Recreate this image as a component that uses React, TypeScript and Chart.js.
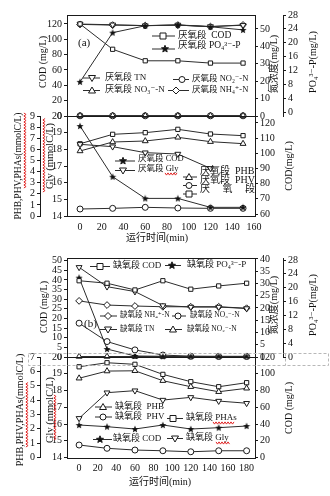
import React, { useEffect, useRef } from "react";
import { Chart, registerables } from "chart.js";
Chart.register(...registerables);

const FONT = '"Liberation Serif", "DejaVu Serif", "Noto Sans CJK SC", serif';

// ---------- Panel (a): anaerobic stage (厌氧段) ----------
const timeA = [0, 30, 60, 90, 120, 150];
const codA = [120, 87, 72, 72, 69, 69];
const po4A = [8.7, 22.9, 24.9, 25.1, 24.6, 23.7];
const tnA = [52.8, 52.4, 51.9, 52.3, 51.4, 52.1];
const nh4A = [52.6, 52.2, 51.9, 52.2, 51.3, 52.3];
const no3A = [0.2, 0.2, 0.2, 0.2, 0.2, 0.2];
const no2A = [0.1, 0.1, 0.1, 0.1, 0.1, 0.1];
const codA2 = [118, 84.6, 70.3, 70.3, 64.4, 64.4];
const glyA = [18.3, 18.16, 17.8, 17.72, 16.86, null];
const phbA = [5.85, 6.66, 6.75, 7.08, 6.69, 6.51];
const phvA = [0.63, 0.69, 0.78, 0.72, 0.69, 0.69];
const phasA = [6.5, 7.35, 7.5, 7.8, 7.38, 7.23];

// ---------- Panel (b): anoxic stage (缺氧段) ----------
const timeB = [0, 30, 60, 90, 120, 150, 180];
const codB = [39.6, 38.3, 34.8, 39.6, 35.2, 36.9, 38.3];
const po4B = [22.9, 2.3, 0.3, 0.2, 0.2, 0.2, 0.2];
const tnB = [36.6, 28.7, 26.7, 21.0, 20.4, 20.4, 19.8];
const nh4B = [22.9, 21.2, 20.8, 20.5, 20.5, 20.5, 19.9];
const no3B = [13.8, 6.3, 2.9, 0.8, 0.3, 0.2, 0.2];
const no2B = [0.2, 0.2, 0.2, 0.2, 0.2, 0.2, 0.2];
const codB2 = [38.8, 36.8, 34.0, 38.8, 34.0, 35.6, 37.6];
const glyB = [16.34, 17.87, 17.99, 17.43, 17.59, 17.37, 17.24];
const phbB = [5.52, 6.02, 6.04, 5.35, 4.93, 4.58, 4.82];
const phvB = [0.87, 0.64, 0.52, 0.47, 0.4, 0.47, 0.47];
const phasB = [6.32, 6.6, 6.49, 5.79, 5.28, 4.93, 5.21];

const INK = "#1a1a1a";
const LINE = "#2c2c2c";

function starPath(g: CanvasRenderingContext2D, cx: number, cy: number, ro: number, ri: number) {
  g.beginPath();
  for (let i = 0; i < 10; i++) {
    const r = i % 2 ? ri : ro;
    const a = -Math.PI / 2 + (i * Math.PI) / 5;
    const px = cx + r * Math.cos(a);
    const py = cy + r * Math.sin(a);
    if (i) g.lineTo(px, py);
    else g.moveTo(px, py);
  }
  g.closePath();
}

function makeStar(): HTMLCanvasElement {
  const c = document.createElement("canvas");
  c.width = 8;
  c.height = 8;
  const g = c.getContext("2d")!;
  starPath(g, 4, 4.3, 3.7, 1.6);
  g.fillStyle = "#111";
  g.fill();
  return c;
}

function drawMarker(g: CanvasRenderingContext2D, kind: string, x: number, y: number) {
  g.save();
  g.lineWidth = 1;
  g.strokeStyle = INK;
  g.fillStyle = "#fff";
  g.beginPath();
  if (kind === "square") g.rect(x - 3, y - 3, 6, 6);
  else if (kind === "circle") g.arc(x, y, 3, 0, 2 * Math.PI);
  else if (kind === "tri") {
    g.moveTo(x, y - 3.5); g.lineTo(x + 3.5, y + 2.5); g.lineTo(x - 3.5, y + 2.5); g.closePath();
  } else if (kind === "dtri") {
    g.moveTo(x, y + 3.5); g.lineTo(x + 3.5, y - 2.5); g.lineTo(x - 3.5, y - 2.5); g.closePath();
  } else if (kind === "diamond") {
    g.moveTo(x, y - 3.5); g.lineTo(x + 3.5, y); g.lineTo(x, y + 3.5); g.lineTo(x - 3.5, y); g.closePath();
  } else if (kind === "star") {
    starPath(g, x, y, 3.7, 1.6);
    g.fillStyle = "#111";
  }
  g.fill();
  g.stroke();
  g.restore();
}

function wavy(g: CanvasRenderingContext2D, x1: number, y1: number, x2: number, y2: number) {
  g.save();
  g.strokeStyle = "#e02424";
  g.lineWidth = 1;
  g.beginPath();
  const len = Math.hypot(x2 - x1, y2 - y1);
  const ux = (x2 - x1) / len, uy = (y2 - y1) / len;
  const nx = -uy, ny = ux;
  let k = 0;
  for (let d = 0; d <= len; d += 1.5, k++) {
    const a = (k % 2 ? 1 : -1) * 1.1;
    const px = x1 + ux * d + nx * a, py = y1 + uy * d + ny * a;
    if (k) g.lineTo(px, py);
    else g.moveTo(px, py);
  }
  g.stroke();
  g.restore();
}

type TextItem = { t: string; x: number; y: number; s?: number; rot?: boolean; align?: CanvasTextAlign };
type LegItem = { k: string; x1: number; x2: number; mx: number; y: number; t: string; tx: number; ty?: number; s?: number };
type Overlay = { texts: TextItem[]; legs: LegItem[]; waves?: number[][]; dashed?: boolean };

function overlayPlugin(ov: Overlay) {
  return {
    id: "overlay",
    afterDraw(chart: any) {
      const g: CanvasRenderingContext2D = chart.ctx;
      const a = chart.chartArea;
      g.save();
      g.strokeStyle = INK;
      g.lineWidth = 1;
      g.strokeRect(Math.round(a.left) + 0.5, Math.round(a.top) + 0.5, Math.round(a.right) - Math.round(a.left), Math.round(a.bottom) - Math.round(a.top));
      for (const L of ov.legs) {
        g.strokeStyle = LINE;
        g.beginPath();
        g.moveTo(L.x1, L.y + 0.5);
        g.lineTo(L.x2, L.y + 0.5);
        g.stroke();
        drawMarker(g, L.k, L.mx, L.y + 0.5);
        g.fillStyle = "#111";
        g.font = `${L.s ?? 9}px ${FONT}`;
        g.textAlign = "left";
        g.textBaseline = "middle";
        g.fillText(L.t, L.tx, L.ty ?? L.y);
      }
      for (const T of ov.texts) {
        g.save();
        g.fillStyle = "#111";
        g.font = `${T.s ?? 10}px ${FONT}`;
        g.textAlign = T.align ?? (T.rot ? "center" : "left");
        g.textBaseline = "middle";
        g.translate(T.x, T.y);
        if (T.rot) g.rotate(-Math.PI / 2);
        g.fillText(T.t, 0, 0);
        g.restore();
      }
      for (const w of ov.waves ?? []) wavy(g, w[0], w[1], w[2], w[3]);
      if (ov.dashed) {
        g.strokeStyle = "#b8b8b8";
        g.setLineDash([3, 2]);
        g.strokeRect(28.5, 353.5, 300, 12);
        g.beginPath();
        g.moveTo(285.5, 353.5);
        g.lineTo(285.5, 365.5);
        g.stroke();
        g.setLineDash([]);
      }
      g.restore();
    },
  };
}

const STY: Record<string, any> = {
  square: { pointStyle: "rect", pointRadius: 3 },
  circle: { pointStyle: "circle", pointRadius: 3 },
  tri: { pointStyle: "triangle", pointRadius: 3.4 },
  dtri: { pointStyle: "triangle", pointRotation: 180, pointRadius: 3.4 },
  diamond: { pointStyle: "rectRot", pointRadius: 3.4 },
};

function ds(label: string, xs: number[], ys: (number | null)[], axis: string, kind: string, star: HTMLCanvasElement) {
  const st = kind === "star" ? { pointStyle: star, pointRadius: 4 } : STY[kind];
  return {
    label,
    yAxisID: axis,
    data: xs.map((x, i) => ({ x, y: ys[i] })).filter((p) => p.y !== null && p.y !== undefined),
    borderColor: LINE,
    borderWidth: 1,
    tension: 0,
    pointBackgroundColor: "#fff",
    pointBorderColor: INK,
    pointBorderWidth: 1,
    clip: false,
    ...st,
  };
}

function yScale(pos: string, min: number, max: number, step: number, width: number, weight = 0) {
  return {
    type: "linear",
    position: pos,
    min,
    max,
    weight,
    grid: { display: true, drawOnChartArea: false, drawTicks: true, tickLength: 3, color: INK },
    border: { display: true, color: INK, width: 1 },
    ticks: { stepSize: step, includeBounds: false, autoSkip: false, font: { family: FONT, size: 10 }, color: "#111", padding: 2 },
    afterFit: (s: any) => { s.width = width; },
  };
}

function xScale(min: number, max: number, show: boolean) {
  const sc: any = {
    type: "linear",
    position: "bottom",
    min,
    max,
    display: show,
    grid: { display: false, drawTicks: false, tickLength: 0 },
    border: { display: false },
    ticks: { stepSize: 20, includeBounds: false, autoSkip: false, maxRotation: 0, font: { family: FONT, size: 10 }, color: "#111", padding: 5 },
  };
  sc.afterFit = (s: any) => { s.height = show ? 20 : 0; };
  return sc;
}

function baseOptions(padding: any, scales: any) {
  return {
    responsive: false,
    animation: false,
    devicePixelRatio: 1,
    events: [],
    layout: { padding },
    plugins: { legend: { display: false }, tooltip: { enabled: false } },
    scales,
  };
}

function cfgATop(star: HTMLCanvasElement): any {
  return {
    type: "line",
    data: {
      datasets: [
        ds("厌氧段 COD", timeA, codA, "yCOD", "square", star),
        ds("厌氧段 PO4", timeA, po4A, "yP", "star", star),
        ds("厌氧段 TN", timeA, tnA, "yN", "dtri", star),
        ds("厌氧段 NH4", timeA, nh4A, "yN", "diamond", star),
        ds("厌氧段 NO3", timeA, no3A, "yN", "tri", star),
        ds("厌氧段 NO2", timeA, no2A, "yN", "circle", star),
      ],
    },
    options: baseOptions({ left: 37, right: 25, top: 15, bottom: 380 }, {
      x: xScale(-12, 161, false),
      yCOD: yScale("left", 0, 131.7, 20, 30),
      yN: yScale("right", 0, 58, 10, 28, 0),
      yP: yScale("right", -1.15, 28, 4, 22, 1),
    }),
    plugins: [overlayPlugin({
      texts: [
        { t: "COD (mg/L)", x: 43, y: 62, rot: true },
        { t: "氮浓度(mg/L)", x: 274, y: 64, rot: true },
        { t: "PO₄³⁻-P(mg/L)", x: 313, y: 62, rot: true },
        { t: "(a)", x: 78, y: 43, s: 11 },
      ],
      legs: [
        { k: "square", x1: 152, x2: 175, mx: 163, y: 35.5, t: "厌氧段  COD", tx: 178, s: 9.5 },
        { k: "star", x1: 152, x2: 175, mx: 165, y: 48.5, t: "厌氧段 PO₄³⁻-P", tx: 178, ty: 45, s: 9.5 },
        { k: "dtri", x1: 83, x2: 100, mx: 92, y: 77.5, t: "厌氧段 TN", tx: 105, s: 9 },
        { k: "tri", x1: 83, x2: 100, mx: 92, y: 90, t: "厌氧段 NO₃⁻-N", tx: 105, s: 9 },
        { k: "circle", x1: 173, x2: 189, mx: 182, y: 79, t: "厌氧段 NO₂⁻-N", tx: 192, s: 8.5 },
        { k: "diamond", x1: 168, x2: 189, mx: 176, y: 90, t: "厌氧段 NH₄⁺-N", tx: 192, s: 8.5 },
      ],
    })],
  };
}

function cfgABot(star: HTMLCanvasElement): any {
  return {
    type: "line",
    data: {
      datasets: [
        ds("厌氧段 COD", timeA, codA2, "yCOD", "star", star),
        ds("厌氧段 Gly", timeA, glyA, "yGly", "dtri", star),
        ds("厌氧段 PHB", timeA, phbA, "yPHA", "tri", star),
        ds("厌氧段 PHV", timeA, phvA, "yPHA", "circle", star),
        ds("厌氧段 PHAs", timeA, phasA, "yPHA", "square", star),
      ],
    },
    options: baseOptions({ left: 24, right: 45, top: 116, bottom: 260 }, {
      x: xScale(-12, 161, true),
      yGly: yScale("left", 14, 20, 1, 27, 0),
      yPHA: yScale("left", 0, 9, 1, 16, 1),
      yCOD: yScale("right", 58.7, 124.6, 10, 30),
    }),
    plugins: [overlayPlugin({
      texts: [
        { t: "PHB,PHV,PHAs(mmolC/L)", x: 18, y: 166, rot: true, s: 9.5 },
        { t: "Gly (mmolC/L)", x: 50, y: 156, rot: true, s: 10.5 },
        { t: "COD(mg/L)", x: 289, y: 166, rot: true },
        { t: "运行时间(min)", x: 157, y: 238, align: "center" },
        { t: "厌　 氧　 段", x: 200, y: 189, s: 10 },
      ],
      legs: [
        { k: "star", x1: 115, x2: 135, mx: 123, y: 160.5, t: "厌氧段 COD", tx: 138, ty: 159, s: 8.5 },
        { k: "dtri", x1: 115, x2: 135, mx: 123, y: 170, t: "厌氧段 Gly", tx: 138, ty: 168.5, s: 8.5 },
        { k: "tri", x1: 183, x2: 197, mx: 189, y: 176.5, t: "厌氧段  PHB", tx: 200, ty: 171.5, s: 10 },
        { k: "circle", x1: 183, x2: 197, mx: 189, y: 185, t: "厌氧段  PHV", tx: 200, ty: 180, s: 10 },
        { k: "square", x1: 183, x2: 197, mx: 189, y: 193.5, t: "", tx: 200, s: 10 },
      ],
      waves: [
        [25, 188, 25, 113],
        [44, 192, 44, 118],
        [165, 174, 178, 174],
      ],
    })],
  };
}

function cfgBTop(star: HTMLCanvasElement): any {
  return {
    type: "line",
    data: {
      datasets: [
        ds("缺氧段 COD", timeB, codB, "yCOD", "square", star),
        ds("缺氧段 PO4", timeB, po4B, "yP", "star", star),
        ds("缺氧段 TN", timeB, tnB, "yN", "dtri", star),
        ds("缺氧段 NH4", timeB, nh4B, "yN", "diamond", star),
        ds("缺氧段 NO3", timeB, no3B, "yN", "circle", star),
        ds("缺氧段 NO2", timeB, no2B, "yN", "tri", star),
      ],
    },
    options: baseOptions({ left: 37, right: 25, top: 258, bottom: 139 }, {
      x: xScale(-13, 189, false),
      yCOD: yScale("left", 0, 51.4, 5, 30),
      yN: yScale("right", 0, 40.4, 5, 28, 0),
      yP: yScale("right", 0, 28.58, 4, 22, 1),
    }),
    plugins: [overlayPlugin({
      texts: [
        { t: "COD (mg/L)", x: 44, y: 307, rot: true },
        { t: "氮浓度(mg/L)", x: 274, y: 305, rot: true },
        { t: "PO₄³⁻-P(mg/L)", x: 313, y: 305, rot: true },
        { t: "(b)", x: 84, y: 324, s: 11 },
      ],
      legs: [
        { k: "square", x1: 90, x2: 110, mx: 100, y: 266, t: "缺氧段 COD", tx: 113, s: 9 },
        { k: "star", x1: 165, x2: 181, mx: 172, y: 265, t: "缺氧段 PO₄³⁻-P", tx: 187, s: 9 },
        { k: "diamond", x1: 100, x2: 117, mx: 108, y: 315.5, t: "缺氧段 NH₄⁺-N", tx: 120, s: 7.5 },
        { k: "circle", x1: 172, x2: 186, mx: 178, y: 315.5, t: "缺氧段 NO₃⁻-N", tx: 190, s: 7.5 },
        { k: "dtri", x1: 100, x2: 117, mx: 108, y: 329, t: "缺氧段 TN", tx: 120, s: 7.5 },
        { k: "tri", x1: 165, x2: 182, mx: 173, y: 329, t: "缺氧段 NO₂⁻-N", tx: 187, s: 7.5 },
      ],
    })],
  };
}

function cfgBBot(star: HTMLCanvasElement): any {
  return {
    type: "line",
    data: {
      datasets: [
        ds("缺氧段 COD", timeB, codB2, "yCOD", "star", star),
        ds("缺氧段 Gly", timeB, glyB, "yGly", "dtri", star),
        ds("缺氧段 PHB", timeB, phbB, "yPHA", "tri", star),
        ds("缺氧段 PHV", timeB, phvB, "yPHA", "circle", star),
        ds("缺氧段 PHAs", timeB, phasB, "yPHA", "square", star),
      ],
    },
    options: baseOptions({ left: 24, right: 45, top: 357, bottom: 18.5 }, {
      x: xScale(-13, 189, true),
      yGly: yScale("left", 14, 20, 1, 27, 0),
      yPHA: yScale("left", 0, 7, 1, 16, 1),
      yCOD: yScale("right", 0, 120, 20, 30),
    }),
    plugins: [overlayPlugin({
      texts: [
        { t: "PHB,PHV,PHAs(mmolC/L)", x: 20, y: 410, rot: true, s: 10 },
        { t: "Gly (mmolC/L)", x: 50, y: 410, rot: true, s: 10.5 },
        { t: "COD (mg/L)", x: 289, y: 408, rot: true },
        { t: "运行时间(min)", x: 160, y: 482, align: "center" },
      ],
      legs: [
        { k: "tri", x1: 95, x2: 112, mx: 103, y: 406.5, t: "缺氧段  PHB", tx: 115, s: 9 },
        { k: "circle", x1: 95, x2: 112, mx: 103, y: 416.5, t: "缺氧段  PHV", tx: 115, s: 9 },
        { k: "star", x1: 93, x2: 112, mx: 100, y: 439, t: "缺氧段 COD", tx: 113, s: 9 },
        { k: "square", x1: 167, x2: 183, mx: 173, y: 418, t: "缺氧段 PHAs", tx: 186, s: 9 },
        { k: "dtri", x1: 167, x2: 183, mx: 175, y: 438, t: "缺氧段 Gly", tx: 186, s: 9 },
      ],
      waves: [
        [27, 447, 27, 382],
        [55, 440, 55, 395],
        [213, 423, 234, 423],
        [216, 443, 230, 443],
      ],
      dashed: true,
    })],
  };
}

export default function App() {
  const r1 = useRef<HTMLCanvasElement>(null);
  const r2 = useRef<HTMLCanvasElement>(null);
  const r3 = useRef<HTMLCanvasElement>(null);
  const r4 = useRef<HTMLCanvasElement>(null);

  useEffect(() => {
    const star = makeStar();
    const charts = [
      new Chart(r1.current!, cfgATop(star)),
      new Chart(r2.current!, cfgABot(star)),
      new Chart(r3.current!, cfgBTop(star)),
      new Chart(r4.current!, cfgBBot(star)),
    ];
    return () => charts.forEach((c) => c.destroy());
  }, []);

  const cs: React.CSSProperties = { position: "absolute", left: 0, top: 0, width: 330, height: 496 };
  return (
    <div style={{ position: "absolute", left: 0, top: 0, width: 330, height: 496, background: "#fff", overflow: "hidden" }}>
      <canvas ref={r1} width={330} height={496} style={cs} />
      <canvas ref={r2} width={330} height={496} style={cs} />
      <canvas ref={r3} width={330} height={496} style={cs} />
      <canvas ref={r4} width={330} height={496} style={cs} />
    </div>
  );
}
